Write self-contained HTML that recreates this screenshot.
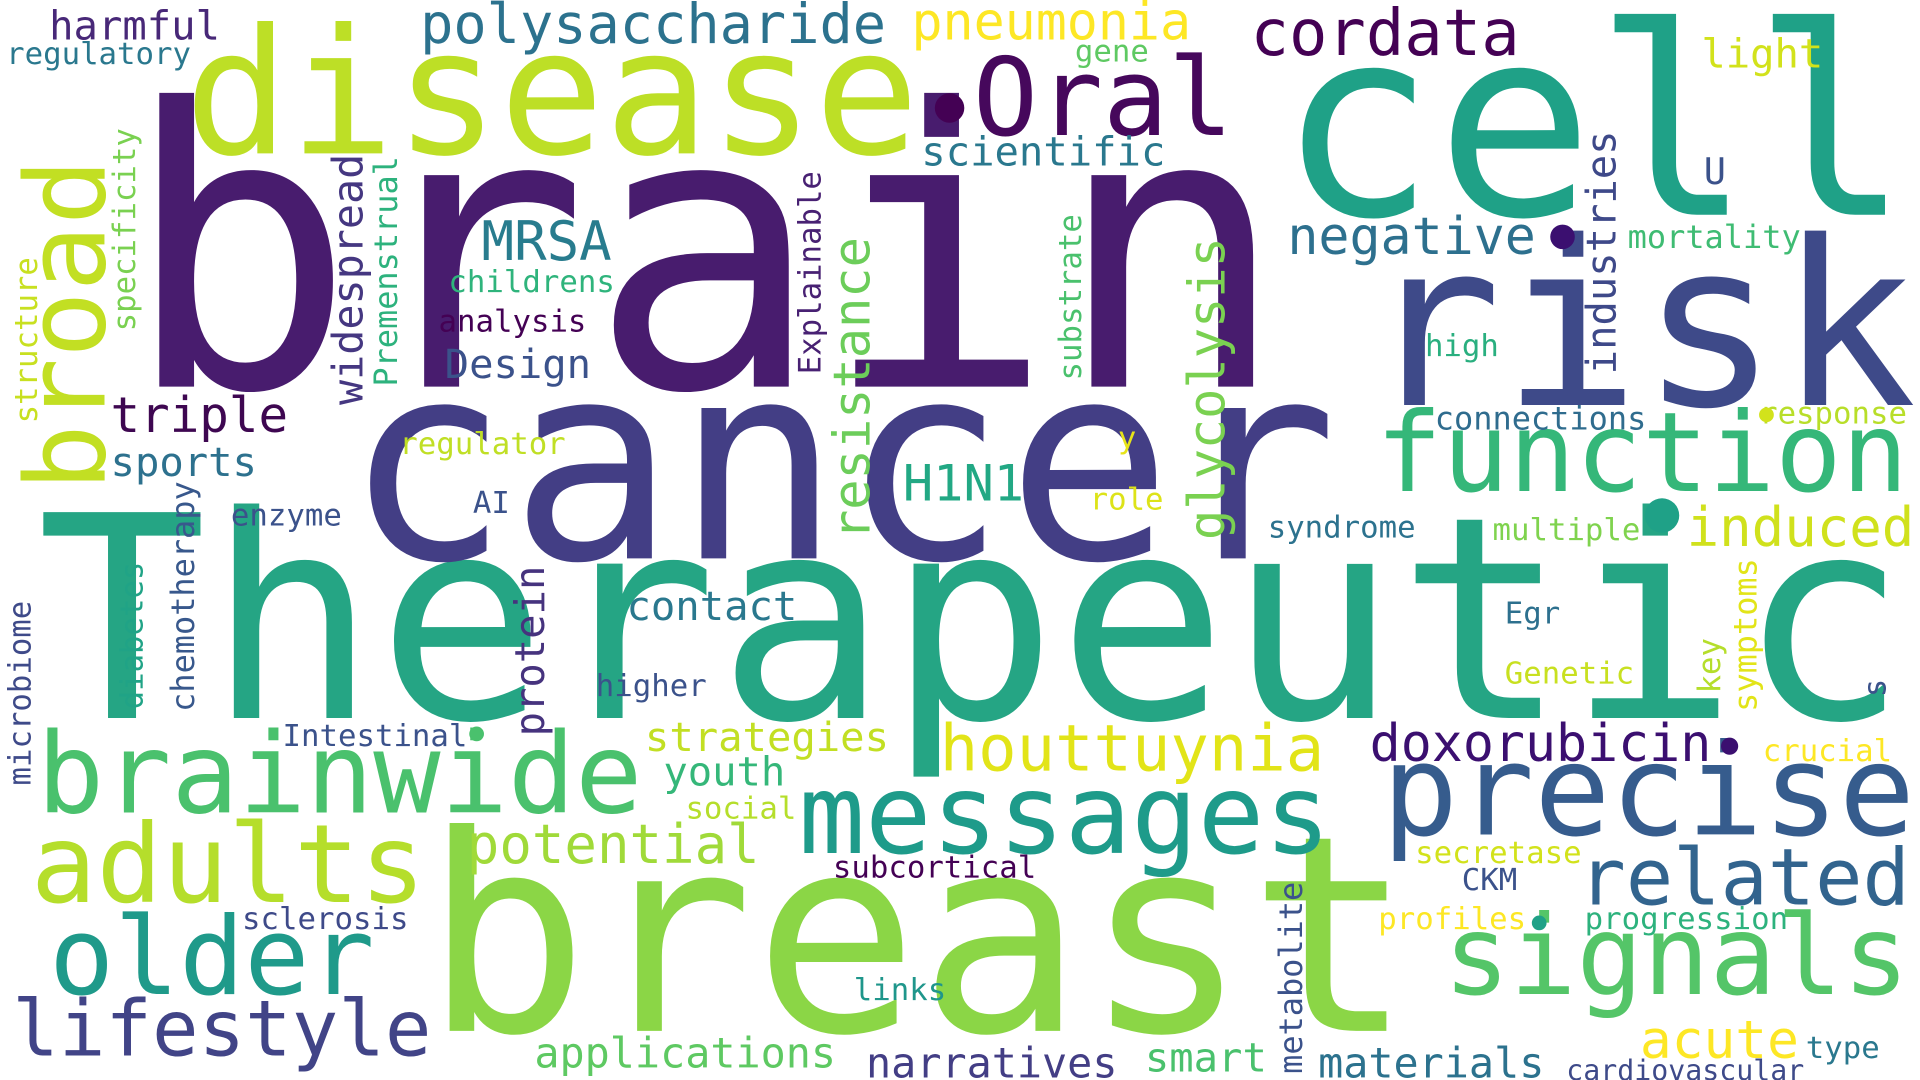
<!DOCTYPE html>
<html><head><meta charset="utf-8"><style>
html,body{margin:0;padding:0;background:#fff;width:1920px;height:1080px;overflow:hidden}
svg{display:block}
text{font-family:"DejaVu Sans Mono","Liberation Mono",monospace}
</style></head><body>
<svg id="cloud" width="1920" height="1080" viewBox="0 0 1563 880" preserveAspectRatio="none" xmlns="http://www.w3.org/2000/svg">
<rect width="1563" height="880" fill="#fff"/>
</svg>
<script>
const words=["brain","Therapeutic","cancer","breast","cell","risk","disease","Oral","broad","function","brainwide","adults","older","lifestyle","messages","precise","signals","related","houttuynia","doxorubicin","potential","polysaccharide","pneumonia","cordata","harmful","regulatory","gene","light","scientific","MRSA","negative","U","mortality","industries","glycolysis","resistance","Explainable","substrate","widespread","Premenstrual","specificity","structure","childrens","analysis","Design","triple","sports","regulator","H1N1","AI","enzyme","chemotherapy","y","role","syndrome","connections","response","high","induced","multiple","Egr","symptoms","key","s","Genetic","crucial","contact","protein","higher","strategies","youth","social","Intestinal","diabetes","microbiome","subcortical","secretase","CKM","profiles","progression","sclerosis","metabolite","links","applications","narratives","smart","materials","acute","cardiovascular","type"];
const xs=[100,30,280,345,1040,1110,150,792,85,1120,30,25,40,10,650,1125,1175,1285,765,1115,380,342,742,1018,40,5,875,1385,750,392,1048,1387,1325,1315,997,708,668,880,295,323,110,30,365,357,362,90,90,325,735,385,188,158,910,887,1032,1168,1432,1160,1373,1215,1225,1430,1400,1535,1225,1435,510,443,485,525,540,558,230,116,25,678,1152,1190,1122,1290,197,1060,695,435,705,932,1073,1335,1275,1470];
const ys=[315,585,455,840,175,330,125,110,400,400,662,735,810,860,695,680,810,737,628,620,703,35,32,45,32,52,50,55,135,212,207,150,202,305,440,440,305,310,330,315,270,345,238,270,308,352,388,370,408,418,428,580,365,415,438,350,345,290,445,440,508,580,565,568,557,620,505,600,567,612,640,667,608,578,640,715,703,725,757,757,757,875,815,870,878,873,878,862,880,862];
const sizes=[315,230,224,223,214,187,142,88,90,90,91,89,88,63,90,103,90,64,52,42,44,45,42,52,33,25,25,33,33,44,42,30,26,33,41,41,25,25,34,26,25,25,25,25,33,40,33,25,41,25,25,26,25,25,25,26,25,25,44,25,25,26,25,25,25,25,33,33,25,33,33,25,25,25,25,25,25,25,25,25,25,26,25,34,34,33,34,43,23,25];
const colors=["#481c6e","#25a584","#433e85","#8bd646","#1fa187","#3e4a89","#bddf26","#46085c","#c2df23","#35b779","#4ac16d","#b5de2b","#1f9a8a","#414487","#1e9b8a","#365c8d","#54c568","#32648e","#e2e418","#3b0f70","#a0da39","#2c728e","#fde725","#440154","#482878","#2a788e","#5ec962","#d2e21b","#2a788e","#287c8e","#2d708e","#3b528b","#3fbc73","#3e4989","#7ad151","#6ccd5a","#482173","#4ac16d","#453781","#2db27d","#7ad151","#c8e020","#2fb47c","#440154","#3b528b","#3e0751","#2d718e","#c0df25","#22a884","#3b528b","#3b528b","#38588c","#e7e419","#dde318","#2c728e","#2f6c8e","#b8de29","#29af7f","#d0e11c","#7fd34e","#2d708e","#e2e418","#b5de2b","#3b528b","#c8e020","#fde725","#2a788e","#46337e","#3b528b","#c2df23","#35b779","#b5de2b","#3b528b","#20a386","#3e4a89","#440154","#d2e21b","#3b528b","#fde725","#2db27d","#3e4a89","#3b528b","#1f968b","#5ec962","#433e85","#4ac16d","#2c728e","#fde725","#3e4a89","#2a788e"];
const vertical=["broad","industries","glycolysis","resistance","Explainable","substrate","widespread","Premenstrual","specificity","structure","chemotherapy","symptoms","key","s","protein","diabetes","microbiome","metabolite"];
const dotX=[773,1272,1353,1408,388,1253,1438];
const dotY=[88,193,420,608,598,752,338];
const dotR=[12,10,14,7,6,6,6];
const dotC=["#440154","#3b0f70","#1fa187","#3b0f70","#4ac16d","#1fa187","#d2e21b"];
const svg=document.getElementById('cloud');
const NS="http://www.w3.org/2000/svg";
words.forEach((w,i)=>{
  const t=document.createElementNS(NS,'text');
  t.setAttribute('x',xs[i]);
  t.setAttribute('y',ys[i]);
  t.setAttribute('font-size',sizes[i]);
  t.setAttribute('fill',colors[i]);
  t.setAttribute('textLength',(w.length*0.602*sizes[i]).toFixed(1));
  t.setAttribute('lengthAdjust','spacingAndGlyphs');
  if(vertical.includes(w)) t.setAttribute('transform','rotate(-90 '+xs[i]+' '+ys[i]+')');
  t.textContent=w;
  
  
  svg.appendChild(t);
});
dotX.forEach((x,i)=>{
  const c=document.createElementNS(NS,'circle');
  c.setAttribute('cx',x);c.setAttribute('cy',dotY[i]);c.setAttribute('r',dotR[i]);c.setAttribute('fill',dotC[i]);
  
  
  svg.appendChild(c);
});
</script>
</body></html>
